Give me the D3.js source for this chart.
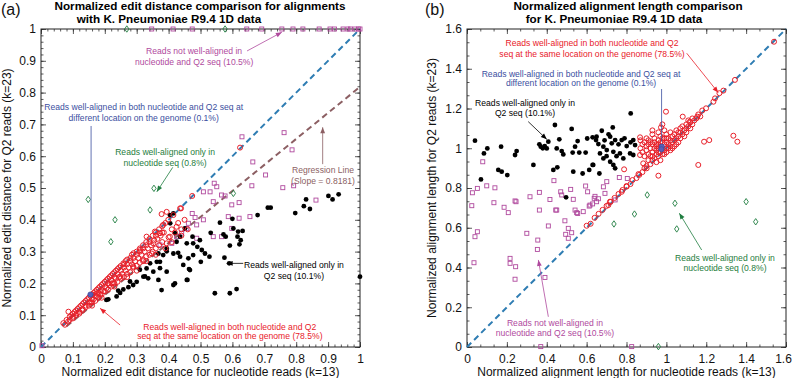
<!DOCTYPE html>
<html>
<head>
<meta charset="utf-8">
<script src="https://cdn.jsdelivr.net/npm/d3@7"></script>
<style>
  body { margin: 0; background: #fff; }
  svg { font-family: "Liberation Sans", Arial, Helvetica, sans-serif; }
</style>
</head>
<body>
<div id="chart"></div>
<script>
// ---- panel (a): normalized edit distance ----
const aTicks = [0, 0.1, 0.2, 0.3, 0.4, 0.5, 0.6, 0.7, 0.8, 0.9, 1];
const aTickLabels = ["0", "0.1", "0.2", "0.3", "0.4", "0.5", "0.6", "0.7", "0.8", "0.9", "1"];
const regSlope = 0.8181;

const aRed = [
  [0.07,0.075],[0.075,0.07],[0.08,0.085],[0.085,0.08],[0.09,0.095],[0.09,0.085],[0.095,0.1],[0.1,0.105],[0.1,0.095],
  [0.105,0.11],[0.11,0.1],[0.11,0.115],[0.115,0.12],[0.12,0.11],[0.12,0.125],[0.125,0.13],[0.13,0.12],[0.13,0.135],
  [0.135,0.14],[0.14,0.13],[0.14,0.145],[0.145,0.15],[0.15,0.14],[0.15,0.155],[0.155,0.16],[0.16,0.15],[0.16,0.165],
  [0.165,0.17],[0.17,0.16],[0.17,0.175],[0.175,0.18],[0.18,0.17],[0.18,0.185],[0.185,0.19],[0.19,0.18],[0.19,0.195],
  [0.195,0.2],[0.2,0.19],[0.2,0.205],[0.205,0.21],[0.21,0.2],[0.21,0.215],[0.215,0.22],[0.22,0.21],[0.22,0.225],
  [0.225,0.23],[0.23,0.22],[0.23,0.235],[0.235,0.24],[0.24,0.23],[0.24,0.245],[0.245,0.25],[0.25,0.24],[0.25,0.255],
  [0.26,0.26],[0.26,0.25],[0.265,0.27],[0.27,0.26],[0.27,0.275],[0.28,0.28],[0.28,0.27],[0.285,0.29],[0.29,0.28],
  [0.29,0.295],[0.3,0.3],[0.3,0.29],[0.31,0.31],[0.31,0.3],[0.32,0.32],[0.32,0.31],[0.33,0.33],[0.33,0.32],
  [0.34,0.34],[0.34,0.33],[0.35,0.35],[0.36,0.36],[0.36,0.35],[0.37,0.37],[0.38,0.38],[0.38,0.36],[0.39,0.39],
  [0.13,0.115],[0.15,0.13],[0.16,0.14],[0.17,0.145],[0.18,0.155],[0.19,0.165],[0.2,0.175],[0.21,0.18],[0.22,0.19],
  [0.23,0.2],[0.24,0.205],[0.25,0.215],[0.26,0.22],[0.27,0.23],[0.28,0.235],[0.29,0.25],[0.3,0.255],[0.31,0.265],
  [0.32,0.27],[0.33,0.285],[0.34,0.29],[0.35,0.3],[0.36,0.31],[0.37,0.32],[0.38,0.33],[0.4,0.345],[0.42,0.36],
  [0.44,0.37],[0.41,0.37],[0.43,0.39],[0.45,0.4],[0.086,0.111],[0.112,0.106],[0.258,0.263],[0.31,0.305],[0.331,0.347],
  [0.357,0.363],[0.373,0.358],[0.383,0.384],[0.399,0.4],[0.425,0.378],[0.404,0.347],[0.394,0.326],[0.352,0.326],
  [0.321,0.274],[0.289,0.253],[0.347,0.294],[0.248,0.221],[0.222,0.2],[0.175,0.169],[0.624,0.627],[0.474,0.475],
  [0.439,0.436],[0.378,0.418],[0.394,0.425],[0.415,0.415],[0.436,0.436],
  [0.1,0.09],[0.12,0.105],[0.14,0.125],[0.155,0.14],[0.165,0.15],[0.175,0.16],[0.185,0.165],[0.195,0.175],
  [0.205,0.185],[0.215,0.195],[0.225,0.2],[0.235,0.215],[0.245,0.22],[0.255,0.23],[0.265,0.24],[0.275,0.25],
  [0.285,0.26],[0.295,0.27],[0.305,0.28],[0.315,0.29],[0.325,0.3],[0.335,0.31],[0.345,0.32],[0.355,0.335],
  [0.365,0.34],[0.375,0.35],[0.385,0.36],[0.16,0.13],[0.19,0.155],[0.23,0.19],[0.27,0.22],[0.3,0.24],[0.33,0.27],
  [0.36,0.29],[0.39,0.31],[0.41,0.33],[0.44,0.35],[0.46,0.37]
];
const aBlack = [
  [0.831,0.464],[0.901,0.475],[0.914,0.464],[0.933,0.48],[0.824,0.443],[0.843,0.434],[0.711,0.438],[0.72,0.438],
  [0.797,0.421],[0.679,0.415],[0.6,0.403],[0.561,0.391],[0.532,0.359],[0.572,0.354],[0.579,0.347],[0.618,0.363],
  [0.632,0.365],[0.603,0.373],[0.616,0.347],[0.626,0.336],[0.592,0.319],[0.622,0.323],[0.498,0.336],[0.477,0.326],
  [0.49,0.315],[0.504,0.305],[0.514,0.294],[0.528,0.284],[0.477,0.289],[0.462,0.279],[0.501,0.268],[0.446,0.258],
  [0.464,0.245],[0.459,0.211],[0.575,0.281],[0.59,0.263],[0.545,0.169],[0.592,0.169],[0.613,0.182],[1.0,0.221],
  [0.404,0.415],[0.415,0.42],[0.451,0.373],[0.436,0.347],[0.475,0.347],[0.425,0.331],[0.457,0.326],[0.394,0.31],
  [0.368,0.294],[0.383,0.289],[0.415,0.294],[0.436,0.284],[0.373,0.268],[0.331,0.247],[0.352,0.237],[0.321,0.221],
  [0.336,0.216],[0.3,0.205],[0.289,0.195],[0.274,0.188],[0.258,0.181],[0.242,0.177],[0.211,0.15],[0.378,0.179],
  [0.415,0.195],[0.457,0.211],[0.467,0.242],[0.368,0.211],[0.394,0.237],[0.405,0.389],[0.42,0.358],[0.394,0.301],
  [0.43,0.296],[0.363,0.268],[0.342,0.263],[0.373,0.248],[0.31,0.243],[0.326,0.222],[0.279,0.206],[0.248,0.17],
  [0.237,0.159],[0.205,0.148],[0.42,0.2]
];
const aPurple = [
  [0.63,0.661],[0.762,0.674],[0.787,0.62],[0.664,0.582],[0.704,0.541],[0.661,0.507],[0.758,0.501],[0.792,0.507],
  [0.862,0.462],[0.543,0.515],[0.551,0.504],[0.53,0.488],[0.509,0.488],[0.566,0.478],[0.577,0.475],[0.54,0.457],
  [0.598,0.447],[0.621,0.454],[0.474,0.42],[0.483,0.407],[0.509,0.4],[0.587,0.41],[0.621,0.405],[0.655,0.41],
  [0.598,0.373],[0.566,0.347],[0.54,0.347],[0.488,0.384],[0.457,0.373],[0.441,0.358],[0.41,0.326],[0.488,0.342],
  [0.462,0.389],[0.425,0.347],[0.373,0.321],[0.003,0.004],
  [0.347,1],[0.414,1],[0.474,1],[0.645,1],[0.692,1],[0.755,1],[0.79,1],[0.821,1],[0.872,1],[0.906,1],[0.92,1],
  [0.947,1],[0.962,1],[0.97,1],[0.984,1],[0.995,1],[1,1]
];
const aGreen = [[0.148,0.464],[0.354,0.499],[0.342,0.431],[0.232,0.4],[0.219,0.331],[0.603,0.483],[0.269,1],[0.577,1]];
const aBlue = [[0.155,0.165]];

// ---- panel (b): normalized alignment length ----
const bTicks = [0, 0.2, 0.4, 0.6, 0.8, 1, 1.2, 1.4, 1.6];
const bTickLabels = ["0", "0.2", "0.4", "0.6", "0.8", "1", "1.2", "1.4", "1.6"];

const bRed = [
  [0.709,0.714],[0.717,0.731],[0.776,0.781],[0.801,0.807],[0.864,0.866],[0.788,0.894],[0.868,0.966],[0.884,0.924],
  [0.901,0.899],[0.96,0.862],[1.16,0.916],[0.868,1.055],[0.973,1.105],[0.998,1.184],[1.082,1.159],[1.155,1.159],
  [1.118,1.134],[1.189,1.033],[1.215,1.041],[1.336,1.063],[1.356,1.033],[1.199,1.201],[1.236,1.234],[1.244,1.251],
  [1.266,1.277],[1.286,1.29],[1.344,1.344],[1.54,1.536],
  [0.87,1.0],[0.88,1.02],[0.88,0.98],[0.89,1.03],[0.9,0.99],[0.9,1.01],[0.91,0.97],[0.91,1.04],[0.92,1.0],[0.92,0.96],
  [0.93,1.02],[0.93,0.98],[0.94,1.0],[0.94,1.05],[0.94,0.95],[0.95,0.99],[0.95,1.02],[0.95,0.97],[0.96,1.0],[0.96,1.04],
  [0.96,0.96],[0.97,1.01],[0.97,0.98],[0.97,1.06],[0.98,1.0],[0.98,1.03],[0.98,0.97],[0.99,1.02],[0.99,0.99],[0.99,1.05],
  [1.0,1.0],[1.0,1.03],[1.0,1.07],[1.0,0.98],[1.01,1.02],[1.01,1.05],[1.02,1.01],[1.02,1.04],[1.02,1.08],[1.03,1.03],
  [1.03,1.06],[1.04,1.04],[1.04,1.07],[1.04,1.01],[1.05,1.05],[1.05,1.09],[1.06,1.06],[1.06,1.03],[1.07,1.08],[1.07,1.1],
  [1.08,1.07],[1.08,1.11],[1.09,1.09],[1.1,1.1],[1.1,1.12],[1.11,1.11],[1.12,1.13],[1.13,1.12],[1.14,1.14],[1.15,1.15],
  [1.16,1.17],[1.17,1.16],[1.18,1.19],[0.92,0.92],[0.93,0.94],[0.9,0.91],[0.89,0.9],[0.88,0.88],[0.86,0.87],[0.85,0.85],
  [0.83,0.84],[0.82,0.82],[0.8,0.81],[0.78,0.79],[0.76,0.77],[0.74,0.75],[0.72,0.73],[0.7,0.71],[0.68,0.69],[0.66,0.67],
  [0.64,0.65],[0.6,0.61],[0.62,0.62],[0.95,0.93],[0.97,0.94],[0.93,1.07],[0.96,1.08],[0.99,1.09],[0.91,1.02],
  [0.95,1.01],[0.96,1.02],[0.97,1.03],[0.98,1.05],[1.0,1.05],[1.01,1.0],[1.03,1.0],[1.05,1.02],[1.06,1.08],[1.07,1.05],
  [1.09,1.06],[1.1,1.08],[1.11,1.14],[1.13,1.15],[1.12,1.1],[0.94,1.03],[0.92,1.03],[0.9,1.05],[0.89,0.96],[0.91,0.94],
  [0.93,0.96],[0.96,0.98],[0.99,0.97],[1.02,0.99],[0.87,1.04],[0.93,1.09],[0.98,1.12]
];
const bBlack = [
  [0.04,1.038],[0.07,0.843],[0.085,0.974],[0.102,0.999],[0.157,0.891],[0.174,0.882],[0.202,0.865],[0.171,1.008],
  [0.241,0.966],[0.249,0.986],[0.333,0.916],[0.363,1.02],[0.37,1.008],[0.38,1.0],[0.39,1.01],[0.4,0.999],[0.408,1.033],
  [0.441,1.117],[0.433,0.891],[0.453,0.904],[0.45,0.999],[0.463,1.045],[0.475,0.986],[0.483,0.969],[0.525,1.097],
  [0.53,0.978],[0.542,1.008],[0.533,0.882],[0.555,1.036],[0.563,0.978],[0.58,0.873],[0.595,0.978],[0.603,1.049],
  [0.63,1.055],[0.613,0.891],[0.63,0.916],[0.647,1.041],[0.659,1.021],[0.664,0.873],[0.497,0.753],
  [0.821,1.175],[0.731,1.105],[0.676,1.088],[0.65,1.058],[0.718,1.058],[0.743,1.041],[0.776,1.041],[0.834,1.041],
  [0.843,1.016],[0.801,1.011],[0.726,1.025],[0.684,1.008],[0.701,0.991],[0.734,0.982],[0.767,0.974],[0.818,0.974],
  [0.667,0.974],[0.633,0.916],[0.684,0.949],[0.718,0.932],[0.734,0.916],[0.743,0.899],[0.784,0.949],[0.834,0.966],
  [0.69,1.04],[0.71,1.07],[0.76,1.02],[0.79,1.05],[0.82,1.03],[0.7,0.96],[0.75,0.96]
];
const bPurple = [
  [0.079,0.932],[0.027,0.776],[0.052,0.798],[0.099,0.811],[0.14,0.801],[0.135,0.726],[0.207,0.676],[0.246,0.731],
  [0.316,0.756],[0.363,0.778],[0.416,0.742],[0.436,0.837],[0.45,0.689],[0.47,0.781],[0.475,0.765],[0.52,0.793],
  [0.533,0.743],[0.542,0.689],[0.55,0.676],[0.583,0.681],[0.595,0.81],[0.605,0.781],[0.617,0.714],[0.638,0.748],
  [0.024,0.711],[0.363,0.689],[0.186,0.703],[0.241,0.735],[0.04,0.555],[0.052,0.58],[0.035,0.424],[0.3,0.572],
  [0.355,0.538],[0.353,0.491],[0.216,0.446],[0.216,0.421],[0.244,0.404],[0.241,0.341],[0.391,0.35],[0.408,0.609],
  [0.445,0.689],[0.491,0.635],[0.508,0.597],[0.525,0.575],[0.495,0.567],[0.508,0.547],[0.555,0.672],[0.613,0.709],
  [0.63,0.72],[0.37,0.002],[0.826,0.002],[0.764,0.853],[0.804,0.848],[0.701,0.832],[0.684,0.806],[0.692,0.773],
  [0.642,0.758],[0.659,0.746],[0.65,0.731],[0.743,0.74]
];
const bGreen = [[0.904,0.765],[1.043,0.723],[1.4,0.731],[0.84,0.669],[0.737,0.619],[1.052,0.594],[1.448,0.63],[0.96,0.002]];
const bBlue = [[0.977,1.008],[0.975,0.995]];

const colors = {
  red: "#e8202a", black: "#000", purple: "#b04a9e", green: "#1f7d40",
  blue: "#3b4fa0", diag: "#2f7db3", reg: "#8c5f63"
};

const svg = d3.select("#chart").append("svg")
  .attr("width", 793)
  .attr("height", 378);

function drawPanel(p) {
  const x = d3.scaleLinear().domain(p.domain).range([p.left, p.right]);
  const y = d3.scaleLinear().domain(p.domain).range([p.bottom, p.top]);
  const g = svg.append("g");

  // minor ticks on all four sides
  const minor = d3.range(p.domain[0], p.domain[1] + 1e-9, p.minorStep);
  g.append("g").attr("transform", "translate(0," + p.bottom + ")")
    .call(d3.axisBottom(x).tickValues(minor).tickSize(-2.5).tickFormat(""));
  g.append("g").attr("transform", "translate(0," + p.top + ")")
    .call(d3.axisTop(x).tickValues(minor).tickSize(-2.5).tickFormat(""));
  g.append("g").attr("transform", "translate(" + p.left + ",0)")
    .call(d3.axisLeft(y).tickValues(minor).tickSize(-2.5).tickFormat(""));
  g.append("g").attr("transform", "translate(" + p.right + ",0)")
    .call(d3.axisRight(y).tickValues(minor).tickSize(-2.5).tickFormat(""));

  // major ticks with labels
  g.append("g").attr("class", "xax").attr("transform", "translate(0," + p.bottom + ")")
    .call(d3.axisBottom(x).tickValues(p.ticks).tickSize(-5).tickPadding(7)
      .tickFormat((d, i) => p.tickLabels[i]));
  g.append("g").attr("class", "yax").attr("transform", "translate(" + p.left + ",0)")
    .call(d3.axisLeft(y).tickValues(p.ticks).tickSize(-5).tickPadding(5)
      .tickFormat((d, i) => p.tickLabels[i]));
  g.append("g").attr("transform", "translate(0," + p.top + ")")
    .call(d3.axisTop(x).tickValues(p.ticks).tickSize(-5).tickFormat(""));
  g.append("g").attr("transform", "translate(" + p.right + ",0)")
    .call(d3.axisRight(y).tickValues(p.ticks).tickSize(-5).tickFormat(""));

  g.selectAll(".domain").remove();
  g.selectAll(".tick line").attr("stroke", "#333").attr("stroke-width", 0.8);
  g.selectAll(".xax text, .yax text").attr("font-size", 12).attr("fill", "#111")
    .attr("font-family", "Liberation Sans, Arial, sans-serif");
  // keep the last x label inside the page
  if (p.right > 780) {
    g.selectAll(".xax .tick:last-of-type text").attr("dx", -3);
  }

  g.append("rect")
    .attr("x", p.left).attr("y", p.top)
    .attr("width", p.right - p.left).attr("height", p.bottom - p.top)
    .attr("fill", "none").attr("stroke", "#222").attr("stroke-width", 1);

  // y = x reference
  g.append("line")
    .attr("x1", x(p.domain[0])).attr("y1", y(p.domain[0]))
    .attr("x2", x(p.domain[1])).attr("y2", y(p.domain[1]))
    .attr("stroke", colors.diag).attr("stroke-width", 2).attr("stroke-dasharray", "6,4");

  if (p.regression) {
    g.append("line")
      .attr("x1", x(0.08)).attr("y1", y(0.08 * regSlope))
      .attr("x2", x(1)).attr("y2", y(regSlope))
      .attr("stroke", colors.reg).attr("stroke-width", 2).attr("stroke-dasharray", "6,4");
  }

  // markers
  g.append("g").selectAll("rect")
    .data(p.purple).enter().append("rect")
      .attr("x", d => x(d[0]) - 2).attr("y", d => y(d[1]) - 2)
      .attr("width", 4).attr("height", 4)
      .attr("fill", "none").attr("stroke", colors.purple).attr("stroke-width", 0.9);

  g.append("g").selectAll("circle")
    .data(p.black).enter().append("circle")
      .attr("cx", d => x(d[0])).attr("cy", d => y(d[1])).attr("r", 2.4)
      .attr("fill", colors.black);

  g.append("g").selectAll("circle")
    .data(p.red).enter().append("circle")
      .attr("cx", d => x(d[0])).attr("cy", d => y(d[1])).attr("r", 2.5)
      .attr("fill", "none").attr("stroke", colors.red).attr("stroke-width", 1);

  g.append("g").selectAll("path")
    .data(p.green).enter().append("path")
      .attr("d", d => {
        const cx = x(d[0]), cy = y(d[1]);
        return "M" + cx + "," + (cy - 3.2) + "L" + (cx + 2.2) + "," + cy + "L" + cx + "," + (cy + 3.2) + "L" + (cx - 2.2) + "," + cy + "Z";
      })
      .attr("fill", "none").attr("stroke", colors.green).attr("stroke-width", 0.9);

  g.append("g").selectAll("circle")
    .data(p.blue).enter().append("circle")
      .attr("cx", d => x(d[0])).attr("cy", d => y(d[1])).attr("r", 2.6)
      .attr("fill", "#5a5fb8").attr("stroke", colors.blue).attr("stroke-width", 0.8);

  // annotations (positions in data units)
  p.notes.forEach(n => {
    const t = g.append("text")
      .attr("text-anchor", "middle")
      .attr("font-size", 8.6)
      .attr("fill", n.color);
    n.lines.forEach((line, i) => {
      t.append("tspan").attr("x", x(n.tx)).attr("y", y(n.ty[i])).text(line);
    });
    if (n.from) {
      const x1 = x(n.from[0]), y1 = y(n.from[1]), x2 = x(n.to[0]), y2 = y(n.to[1]);
      g.append("line")
        .attr("x1", x1).attr("y1", y1).attr("x2", x2).attr("y2", y2)
        .attr("stroke", n.color).attr("stroke-width", 0.8);
      if (n.arrow) {
        const a = Math.atan2(y2 - y1, x2 - x1), L = 6, W = 2.4;
        const bx = x2 - L * Math.cos(a), by = y2 - L * Math.sin(a);
        g.append("path")
          .attr("d", "M" + x2 + "," + y2 +
            "L" + (bx + W * Math.sin(a)) + "," + (by - W * Math.cos(a)) +
            "L" + (bx - W * Math.sin(a)) + "," + (by + W * Math.cos(a)) + "Z")
          .attr("fill", n.color);
      }
    }
  });

  // axis labels
  svg.append("text")
    .attr("x", (p.left + p.right) / 2).attr("y", 376)
    .attr("text-anchor", "middle").attr("font-size", 12).attr("fill", "#111")
    .text(p.xLabel);
  svg.append("text")
    .attr("transform", "translate(" + p.yLabelX + "," + ((p.top + p.bottom) / 2) + ") rotate(-90)")
    .attr("text-anchor", "middle").attr("font-size", 12).attr("fill", "#111")
    .text(p.yLabel);

  // title
  p.title.forEach((line, i) => {
    svg.append("text")
      .attr("x", p.titleX[i]).attr("y", 10 + i * 13)
      .attr("text-anchor", "middle").attr("font-size", 11.7).attr("font-weight", "bold")
      .text(line);
  });
  svg.append("text")
    .attr("x", p.tag[0]).attr("y", p.tag[1])
    .attr("font-size", 16).attr("fill", "#111")
    .text(p.tagText);
}

drawPanel({
  domain: [0, 1], ticks: aTicks, tickLabels: aTickLabels, minorStep: 0.02,
  left: 41, right: 360, top: 29, bottom: 347,
  red: aRed, black: aBlack, purple: aPurple, green: aGreen, blue: aBlue,
  regression: true,
  xLabel: "Normalized edit distance for nucleotide reads (k=13)",
  yLabel: "Normalized edit distance for Q2 reads (k=23)", yLabelX: 11,
  title: ["Normalized edit distance comparison for alignments", "with K. Pneumoniae R9.4 1D data"],
  titleX: [200, 169], tag: [1, 15], tagText: "(a)",
  notes: [
    {lines: ["Reads not well-aligned in", "nucleotide and Q2 seq (10.5%)"], tx: 0.48, ty: [0.92, 0.887],
      color: colors.purple, from: [0.646, 0.931], to: [0.755, 0.99], arrow: true},
    {lines: ["Reads well-aligned in both nucleotide and Q2 seq at", "different location on the genome (0.1%)"],
      tx: 0.322, ty: [0.745, 0.711], color: colors.blue, from: [0.157, 0.695], to: [0.157, 0.179]},
    {lines: ["Reads well-aligned only in", "nucleotide seq (0.8%)"], tx: 0.389, ty: [0.604, 0.569],
      color: colors.green, from: [0.413, 0.565], to: [0.363, 0.488], arrow: true},
    {lines: ["Regression Line", "(Slope = 0.8181)"], tx: 0.884, ty: [0.547, 0.514],
      color: colors.reg, from: [0.883, 0.575], to: [0.883, 0.691], arrow: true},
    {lines: ["Reads well-aligned only in", "Q2 seq (10.1%)"], tx: 0.793, ty: [0.248, 0.214],
      color: colors.black, from: [0.634, 0.263], to: [0.582, 0.263], arrow: true},
    {lines: ["Reads well-aligned in both nucleotide and Q2", "seq at the same location on the genome (78.5%)"],
      tx: 0.592, ty: [0.055, 0.024], color: colors.red, from: [0.248, 0.069], to: [0.185, 0.122], arrow: true}
  ]
});

drawPanel({
  domain: [0, 1.6], ticks: bTicks, tickLabels: bTickLabels, minorStep: 0.2 / 3,
  left: 467, right: 786, top: 29, bottom: 347,
  red: bRed, black: bBlack, purple: bPurple, green: bGreen, blue: bBlue,
  regression: false,
  xLabel: "Normalized alignment length for nucleotide reads (k=13)",
  yLabel: "Normalized alignment length for Q2 reads (k=23)", yLabelX: 436,
  title: ["Normalized alignment length comparison", "for K. Pneumoniae R9.4 1D data"],
  titleX: [628, 614], tag: [425, 15], tagText: "(b)",
  notes: [
    {lines: ["Reads well-aligned in both nucleotide and Q2", "seq at the same location on the genome (78.5%)"],
      tx: 0.627, ty: [1.514, 1.459], color: colors.red, from: [1.102, 1.478], to: [1.26, 1.28], arrow: true},
    {lines: ["Reads well-aligned in both nucleotide and Q2 seq at", "different location on the genome (0.1%)"],
      tx: 0.572, ty: [1.361, 1.311], color: colors.blue, from: [0.976, 1.298], to: [0.976, 1.033]},
    {lines: ["Reads well-aligned only in", "Q2 seq (10.1%)"], tx: 0.291, ty: [1.215, 1.162],
      color: colors.black, from: [0.307, 1.134], to: [0.4, 1.045], arrow: true},
    {lines: ["Reads well-aligned only in", "nucleotide seq (0.8%)"], tx: 1.294, ty: [0.435, 0.382],
      color: colors.green, from: [1.177, 0.488], to: [1.065, 0.673], arrow: true},
    {lines: ["Reads not well-aligned in", "nucleotide and Q2 seq (10.5%)"], tx: 0.441, ty: [0.104, 0.053],
      color: colors.purple, from: [0.408, 0.152], to: [0.358, 0.438], arrow: true}
  ]
});
</script>
</body>
</html>
